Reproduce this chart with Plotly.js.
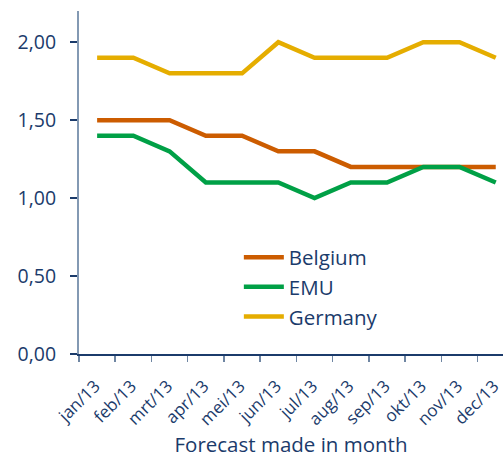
<!DOCTYPE html>
<html>
<head>
<meta charset="utf-8">
<script src="https://cdn.plot.ly/plotly-3.0.1.min.js"></script>
<style>html,body{margin:0;padding:0;background:#fff;}#chart{width:503px;height:458px;}</style>
</head>
<body>
<div id="chart"></div>
<script>
const months = ["jan/13","feb/13","mrt/13","apr/13","mei/13","jun/13","jul/13","aug/13","sep/13","okt/13","nov/13","dec/13"];
const belgium = [1.5,1.5,1.5,1.4,1.4,1.3,1.3,1.2,1.2,1.2,1.2,1.2];
const emu     = [1.4,1.4,1.3,1.1,1.1,1.1,1.0,1.1,1.1,1.2,1.2,1.1];
const germany = [1.9,1.9,1.8,1.8,1.8,2.0,1.9,1.9,1.9,2.0,2.0,1.9];
const yTicks = [0,0.5,1,1.5,2];

const navy = "#1b3b6b";
const mk = (name, y, color) => ({
  type: "scatter", mode: "lines", name: name, x: months, y: y,
  line: {color: color, width: 4.5, shape: "linear"}, cliponaxis: false
});
const data = [
  mk("Belgium", belgium, "#cc5c00"),
  mk("EMU", emu, "#00a046"),
  mk("Germany", germany, "#e5ad00")
];
const layout = {
  width: 503, height: 458,
  margin: {l: 79, r: 0, t: 11, b: 104},
  paper_bgcolor: "#fff", plot_bgcolor: "#fff",
  separators: ",.",
  font: {family: "'Open Sans', Lato, sans-serif", color: navy},
  showlegend: true,
  legend: {x: 0.377, y: 0.34, xanchor: "left", yanchor: "top",
           font: {size: 20.5, color: navy}, tracegroupgap: 0, itemwidth: 40,
           bgcolor: "rgba(0,0,0,0)"},
  xaxis: {
    type: "category", range: [-0.5, 11.2],
    showgrid: false, zeroline: false,
    showline: true, linecolor: navy, linewidth: 1.5,
    ticks: "outside", tickson: "boundaries", ticklen: 6, tickcolor: "#6f86a3", tickwidth: 1.5,
    ticklabelstandoff: 14, ticklabelshift: -2,
    tickangle: -45, tickfont: {size: 17, color: navy},
    title: {text: "Forecast made in month", font: {size: 20.5, color: navy}, standoff: 9}
  },
  yaxis: {
    range: [0, 2.2], tickvals: yTicks, tickformat: ".2f",
    showgrid: false, zeroline: false,
    showline: true, linecolor: "#8399b3", linewidth: 2,
    ticks: "outside", ticklen: 7, tickcolor: navy, tickwidth: 1.5,
    ticklabelstandoff: 10,
    tickfont: {size: 19.5, color: navy}
  }
};
Plotly.newPlot("chart", data, layout, {displayModeBar: false, staticPlot: true});
</script>
</body>
</html>
